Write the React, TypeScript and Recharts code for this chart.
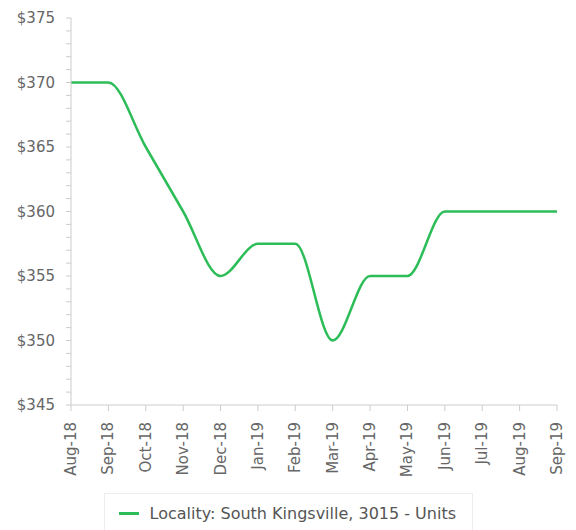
import React from "react";
import { LineChart, Line, XAxis, YAxis, Legend } from "recharts";

const months = [
  "Aug-18", "Sep-18", "Oct-18", "Nov-18", "Dec-18", "Jan-19", "Feb-19",
  "Mar-19", "Apr-19", "May-19", "Jun-19", "Jul-19", "Aug-19", "Sep-19",
];
const rents = [370, 370, 365, 360, 355, 357.5, 357.5, 350, 355, 355, 360, 360, 360, 360];
const seriesName = "Locality: South Kingsville, 3015 - Units";

// minor ticks every $1, labels every $5
const yTicks: number[] = [];
for (let v = 345; v <= 375; v++) yTicks.push(v);

const rows = months.map((m, i) => ({ month: m, rent: rents[i] }));

const FONT = "DejaVu Sans, sans-serif";
const GREEN = "#2dbd58";
const LABEL = "#666";

function YTick({ x, y, payload }: any) {
  if (payload.value % 5 !== 0) return null;
  return (
    <text x={x} y={y} dy={5} textAnchor="end" fontSize={15} fill={LABEL} fontFamily={FONT}>
      ${payload.value}
    </text>
  );
}

function XTick({ x, y, payload }: any) {
  return (
    <text
      x={x}
      y={y}
      transform={`rotate(-90, ${x}, ${y})`}
      dy={5}
      textAnchor="end"
      fontSize={15}
      fill={LABEL}
      fontFamily={FONT}
    >
      {payload.value}
    </text>
  );
}

function LegendBox() {
  return (
    <div
      style={{
        margin: "0 auto",
        width: 369,
        height: 40,
        border: "1px solid #eee",
        display: "flex",
        alignItems: "center",
        paddingLeft: 14,
        fontFamily: FONT,
        fontSize: 16,
        color: "#555",
        boxSizing: "border-box",
        whiteSpace: "nowrap",
      }}
    >
      <span style={{ display: "inline-block", width: 20, height: 3, background: GREEN, marginRight: 11 }} />
      {seriesName}
    </div>
  );
}

export default function App() {
  return (
    <div style={{ position: "absolute", left: 0, top: 0 }}>
      <LineChart width={576} height={530} data={rows} margin={{ top: 18, right: 19, left: 0, bottom: 0 }}>
        <XAxis
          dataKey="month"
          interval={0}
          height={85}
          tick={<XTick />}
          tickSize={6}
          tickMargin={11}
          axisLine={{ stroke: "#ccc" }}
          tickLine={{ stroke: "#ccc" }}
        />
        <YAxis
          domain={[345, 375]}
          ticks={yTicks}
          interval={0}
          width={71}
          tick={<YTick />}
          tickSize={5}
          tickMargin={11}
          axisLine={{ stroke: "#ccc" }}
          tickLine={{ stroke: "#ccc" }}
        />
        <Legend
          verticalAlign="bottom"
          wrapperStyle={{ left: 0, width: 576, bottom: -3 }}
          content={() => <LegendBox />}
        />
        <Line
          type="monotone"
          dataKey="rent"
          name={seriesName}
          stroke={GREEN}
          strokeWidth={2.5}
          dot={false}
          isAnimationActive={false}
        />
      </LineChart>
    </div>
  );
}
